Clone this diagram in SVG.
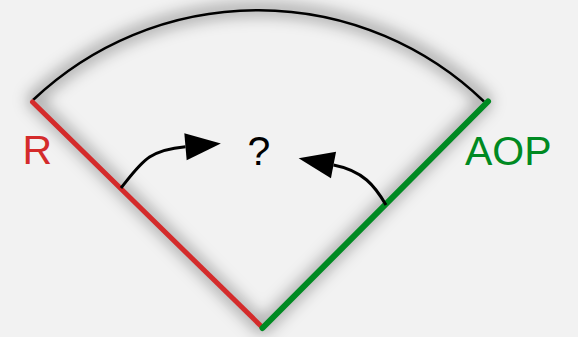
<svg xmlns="http://www.w3.org/2000/svg" width="578" height="337" viewBox="0 0 578 337">
  <style>
    .lbl { font-family: "Liberation Sans", Arial, sans-serif; font-size: 41px; }
    .arrow { fill: none; stroke: #000; stroke-width: 3; marker-end: url(#head); }
  </style>
  <defs>
    <filter id="blur" x="-20%" y="-20%" width="140%" height="140%">
      <feGaussianBlur stdDeviation="8"/>
    </filter>
    <marker id="head" markerUnits="userSpaceOnUse" markerWidth="36" markerHeight="28" viewBox="0 0 36 28" refX="0" refY="13.5" orient="auto" overflow="visible">
      <path d="M0,0 L35.5,13.5 L0,27 Z" fill="#000"/>
    </marker>
  </defs>
  <rect width="578" height="337" fill="#f2f2f2"/>
  <g id="sector">
    <path d="M33,100 A326,326 0 0 1 486,101.5 L262.5,328 Z" fill="none" stroke="#000" stroke-opacity="0.4" stroke-width="10" stroke-linejoin="round" filter="url(#blur)"/>
    <path d="M33,100 A326,326 0 0 1 484,101.5" fill="none" stroke="#000" stroke-width="2.5"/>
  </g>
  <g id="node-R">
    <line x1="32.5" y1="102" x2="262" y2="327" stroke="#d42b2b" stroke-width="5" stroke-linecap="round"/>
    <text class="lbl" x="22.5" y="163.5" fill="#d42b2b">R</text>
  </g>
  <g id="node-AOP">
    <line x1="262.5" y1="328" x2="488" y2="101.5" stroke="#008a22" stroke-width="6" stroke-linecap="round"/>
    <text class="lbl" x="465" y="165" fill="#008a22">AOP</text>
  </g>
  <g id="node-question">
    <text class="lbl" x="259" y="165" text-anchor="middle" fill="#000">?</text>
  </g>
  <g id="connectors">
    <path class="arrow" d="M121,188 C142,162 148,150 185.5,146.7"/>
    <path class="arrow" d="M386,205 C375,186 363,170.7 333.5,165"/>
  </g>
</svg>
